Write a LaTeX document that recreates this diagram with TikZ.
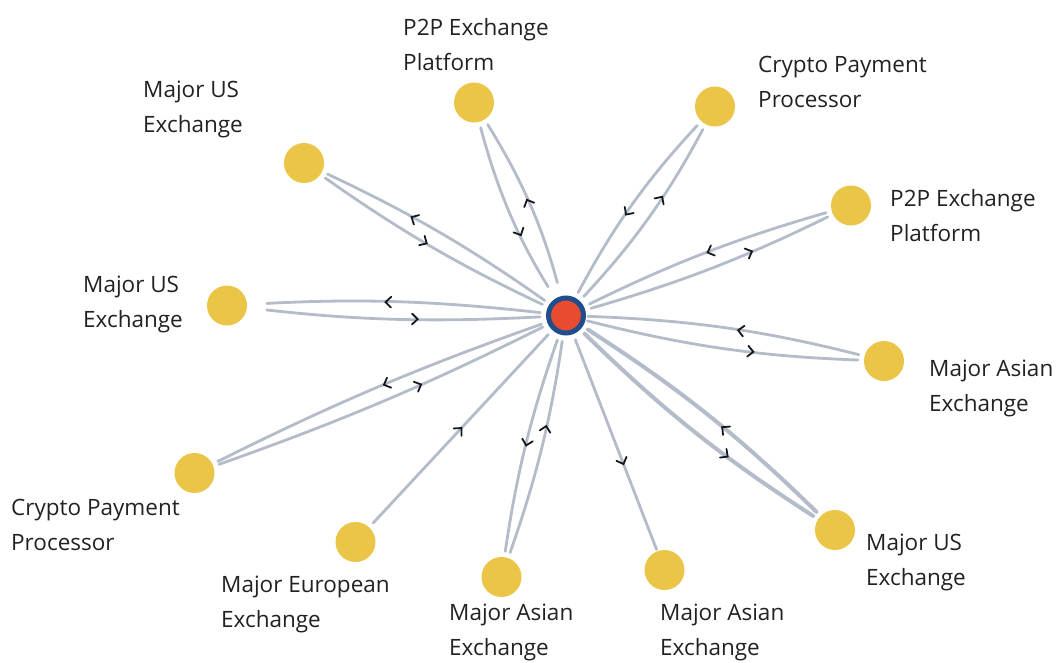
\documentclass[tikz,border=0pt]{standalone}
\usepackage{fontspec}
\setmainfont{Open Sans}
\usetikzlibrary{decorations.markings}
\definecolor{edgec}{HTML}{B3BCC8}
\definecolor{chevc}{HTML}{15181F}
\definecolor{leafc}{HTML}{EAC548}
\definecolor{hubfill}{HTML}{E84B30}
\definecolor{hubline}{HTML}{1F4E8C}
\definecolor{textc}{HTML}{222222}
\tikzset{
  leaf/.style={circle, fill=leafc, minimum size=40pt, inner sep=0pt},
  hub/.style={circle, fill=hubfill, draw=hubline, line width=5pt, minimum size=35pt, inner sep=0pt},
  lab/.style={anchor=west, align=left, inner sep=0pt, text=textc, font=\fontsize{22.5}{35}\selectfont},
  edge/.style={draw=edgec, line width=2.8pt, line cap=round, shorten <=26pt, shorten >=26pt},
  thickedge/.style={edge, line width=4pt},
  chev/.style={draw=chevc, line width=1.8pt, line cap=round, line join=miter, shorten <=0pt, shorten >=0pt},
  cmark/.style={postaction={decorate, decoration={markings, mark=at position #1 with {\draw[chev] (-4.6pt,5.4pt) -- (1pt,0pt) -- (-4.6pt,-5.4pt);}}}}
}
\begin{document}
\begin{tikzpicture}[x=1pt,y=1pt]
\useasboundingbox (0,0) rectangle (1057,-662);
\fill[white] (0,0) rectangle (1057,-662);

% nodes
\node[leaf] (Y1) at (474,-102.5) {};
\node[leaf] (Y2) at (715,-106.5) {};
\node[leaf] (Y3) at (304,-163) {};
\node[leaf] (Y4) at (851,-205.5) {};
\node[leaf] (Y5) at (227,-305.5) {};
\node[leaf] (Y6) at (884,-361) {};
\node[leaf] (Y7) at (194.5,-473) {};
\node[leaf] (Y8) at (355.5,-542) {};
\node[leaf] (Y9) at (501.5,-577) {};
\node[leaf] (Y10) at (664.5,-570) {};
\node[leaf] (Y11) at (835,-530) {};

% edges
\draw[edge, cmark=0.52, shorten <=34pt] (566,-315.5) coordinate (C0) to[bend right=8.5] (Y1.center);
\draw[edge, cmark=0.60, shorten >=34pt] (Y1.center) to[bend right=8.5] (C0);
\draw[edge, cmark=0.59] (C0) to[bend right=7.5] (Y2.center);
\draw[edge, cmark=0.54] (Y2.center) to[bend right=7.5] (C0);
\draw[edge, cmark=0.60] (C0) to[bend right=5] (Y3.center);
\draw[edge, cmark=0.48] (Y3.center) to[bend right=5] (C0);
\draw[edge, cmark=0.64] (C0) to[bend right=5] (Y4.center);
\draw[edge, cmark=0.49] (Y4.center) to[bend right=5] (C0);
\draw[edge, cmark=0.53, shorten >=40pt] (C0) to[bend right=4.7] (Y5.center);
\draw[edge, cmark=0.56, shorten <=40pt] (Y5.center) to[bend right=4.7] (C0);
\draw[edge, cmark=0.59, shorten <=22pt] (C0) to[bend right=6] (Y6.center);
\draw[edge, cmark=0.46, shorten >=22pt] (Y6.center) to[bend right=6] (C0);
\draw[edge, cmark=0.48] (C0) to[bend right=3.5] (Y7.center);
\draw[edge, cmark=0.60] (Y7.center) to[bend right=3.5] (C0);
\draw[edge, cmark=0.50] (Y8.center) -- (C0);
\draw[edge, cmark=0.50] (C0) to[bend right=5.5] (Y9.center);
\draw[edge, cmark=0.58] (Y9.center) to[bend right=5.5] (C0);
\draw[edge, cmark=0.58, shorten >=22pt] (C0) -- (Y10.center);
\draw[thickedge, cmark=0.62] (C0) to[bend right=5.8] (Y11.center);
\draw[thickedge, cmark=0.44] (Y11.center) to[bend right=5.8] (C0);

\node[hub] (C) at (C0) {};

% labels
\node[lab] (L1) at (403,-44.5) {P2P Exchange\\Platform};
\node[lab] (L2) at (758,-82) {Crypto Payment\\Processor};
\node[lab] (L3) at (143,-109.5) {Major US\\Exchange};
\node[lab] (L4) at (890,-216) {P2P Exchange\\Platform};
\node[lab] (L5) at (83,-304) {Major US\\Exchange};
\node[lab] (L6) at (929,-388.5) {Major Asian\\Exchange};
\node[lab] (L7) at (11,-524.5) {Crypto Payment\\Processor};
\node[lab] (L8) at (221,-604.5) {Major European\\Exchange};
\node[lab] (L9) at (449,-632.5) {Major Asian\\Exchange};
\node[lab] (L10) at (660,-632.5) {Major Asian\\Exchange};
\node[lab] (L11) at (866,-562.5) {Major US\\Exchange};
\end{tikzpicture}
\end{document}
